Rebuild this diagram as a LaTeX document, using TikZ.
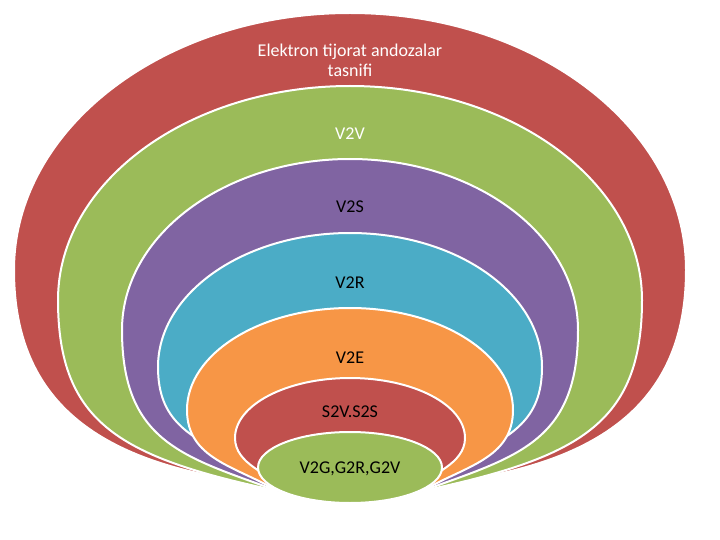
\documentclass[tikz,border=0pt]{standalone}
\usepackage{fontspec}
\setmainfont{Carlito}
\definecolor{ringred}{HTML}{C0504D}
\definecolor{ringgreen}{HTML}{9BBB59}
\definecolor{ringpurple}{HTML}{8064A2}
\definecolor{ringcyan}{HTML}{4BACC6}
\definecolor{ringorange}{HTML}{F79646}
\begin{document}
\begin{tikzpicture}[
  x=1pt, y=-1pt,
  ring/.style={draw=white, line width=2pt, line join=round},
  lbl/.style={font=\fontsize{18}{20}\selectfont, align=center, inner sep=0pt, anchor=base}
]
\useasboundingbox (0,0) rectangle (720,540);
% rings: colour / half width / top / widest / bend / tail angle / tail pull / tail end
\foreach \col/\rx/\tp/\md/\ka/\an/\ln/\tx/\ty in {
  ringred/336/13/270/0.55/8/165/242/481,
  ringgreen/292/86/300/0.65/12/160/278/491,
  ringpurple/228/159/330/0.7/20/100/278/491,
  ringcyan/192/233/367/0.6/32/45/228/458,
  ringorange/163/308/410/0.6/30/50/278/491,
  ringred/115/378/438/0.5/40/25/288/490}
  \filldraw[ring, fill=\col] ({350-\rx},\md)
    .. controls ({350-\rx},{\md-0.552*(\md-\tp)}) and ({350-0.552*\rx},\tp) .. (350,\tp)
    .. controls ({350+0.552*\rx},\tp) and ({350+\rx},{\md-0.552*(\md-\tp)}) .. ({350+\rx},\md)
    .. controls ({350+\rx},{\md+\ka*(\ty-\md)}) and ({700-\tx+\ln*cos(\an)},{\ty-\ln*sin(\an)}) .. ({700-\tx},\ty)
    -- (350,{\ty-50}) -- (\tx,\ty)
    .. controls ({\tx-\ln*cos(\an)},{\ty-\ln*sin(\an)}) and ({350-\rx},{\md+\ka*(\ty-\md)}) .. cycle;
\filldraw[ring, fill=ringgreen] (350,467.5) ellipse [x radius=92, y radius=35.5];

\node[lbl, text=white, anchor=center] (title) at (350,60) {Elektron tijorat andozalar\\ tasnifi};
\node[lbl, text=white] (vv) at (350,140) {V2V};
\node[lbl] (vs) at (350,213) {V2S};
\node[lbl] (vr) at (350,288) {V2R};
\node[lbl] (ve) at (350,363) {V2E};
\node[lbl] (sv) at (350,417) {S2V.S2S};
\node[lbl] (vg) at (350,473) {V2G,G2R,G2V};
\end{tikzpicture}
\end{document}
